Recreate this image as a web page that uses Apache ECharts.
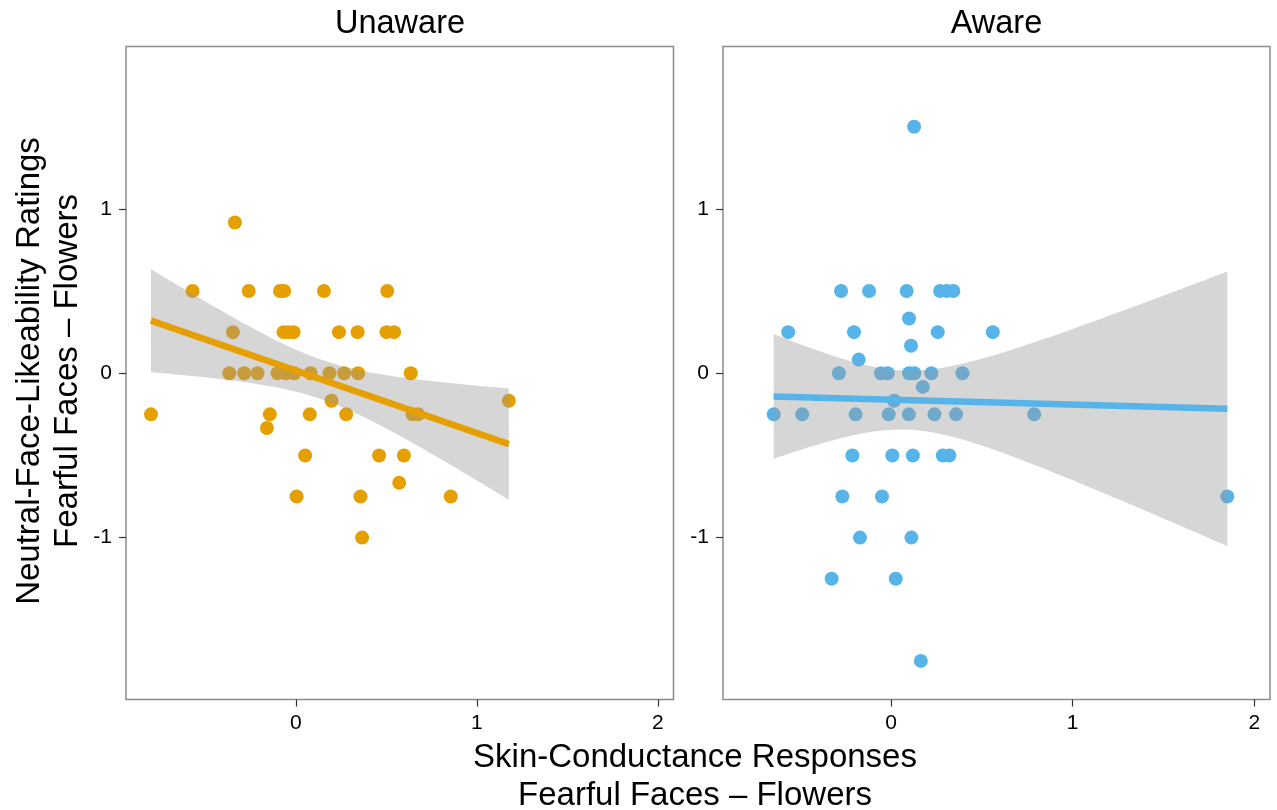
<!DOCTYPE html>
<html><head><meta charset="utf-8">
<script src="https://cdn.jsdelivr.net/npm/echarts@6/dist/echarts.min.js"></script>
<style>html,body{margin:0;padding:0;background:#fff}#c{width:1277px;height:810px}</style>
</head><body><div id="c"></div>
<script>
// ---- data ----
const unawareX = [-0.337,
  -0.571, -0.261, -0.088, -0.065, 0.155, 0.505,
  -0.348, -0.068, -0.042, -0.013, 0.238, 0.341, 0.501, 0.543,
  -0.368, -0.286, -0.212, -0.101, -0.055, -0.009, 0.081, 0.186, 0.267, 0.344, 0.635,
  0.197, 1.177,
  -0.801, -0.144, 0.077, 0.278, 0.645, 0.676,
  -0.160,
  0.051, 0.460, 0.597,
  0.571,
  0.004, 0.357, 0.856,
  0.366];
const unawareY = [0.917,
  0.5, 0.5, 0.5, 0.5, 0.5, 0.5,
  0.25, 0.25, 0.25, 0.25, 0.25, 0.25, 0.25, 0.25,
  0, 0, 0, 0, 0, 0, 0, 0, 0, 0, 0,
  -0.167, -0.167,
  -0.25, -0.25, -0.25, -0.25, -0.25, -0.25,
  -0.333,
  -0.5, -0.5, -0.5,
  -0.667,
  -0.75, -0.75, -0.75,
  -1];
const awareX = [0.127,
  -0.275, -0.121, 0.086, 0.270, 0.307, 0.343,
  0.099,
  -0.566, -0.204, 0.257, 0.560,
  0.110,
  -0.178,
  -0.287, -0.055, -0.018, 0.099, 0.128, 0.222, 0.393,
  0.175,
  0.017,
  -0.646, -0.489, -0.195, -0.013, 0.098, 0.239, 0.358, 0.788,
  -0.213, 0.007, 0.120, 0.285, 0.321,
  -0.268, -0.050, 1.851,
  -0.171, 0.112,
  -0.327, 0.026,
  0.164];
const awareY = [1.5,
  0.5, 0.5, 0.5, 0.5, 0.5, 0.5,
  0.333,
  0.25, 0.25, 0.25, 0.25,
  0.167,
  0.083,
  0, 0, 0, 0, 0, 0, 0,
  -0.083,
  -0.167,
  -0.25, -0.25, -0.25, -0.25, -0.25, -0.25, -0.25, -0.25,
  -0.5, -0.5, -0.5, -0.5, -0.5,
  -0.75, -0.75, -0.75,
  -1, -1,
  -1.25, -1.25,
  -1.75];
const panelTitles = ['Unaware', 'Aware'];
const xTicks = [0, 1, 2];
const yTicks = [-1, 0, 1];
const tCrit = [2.0195, 2.0181]; // t(0.975, n-2)
const xTitle = 'Skin-Conductance Responses\nFearful Faces \u2013 Flowers';
const yTitle = 'Neutral-Face-Likeability Ratings\nFearful Faces \u2013 Flowers';

// ---- linear fit with 95% confidence band (derived from the data) ----
function fit(xs, ys, t) {
  const n = xs.length;
  const xbar = xs.reduce((a, b) => a + b, 0) / n;
  const ybar = ys.reduce((a, b) => a + b, 0) / n;
  let sxx = 0, sxy = 0;
  for (let i = 0; i < n; i++) { sxx += (xs[i] - xbar) ** 2; sxy += (xs[i] - xbar) * (ys[i] - ybar); }
  const b = sxy / sxx, a = ybar - b * xbar;
  let sse = 0;
  for (let i = 0; i < n; i++) sse += (ys[i] - a - b * xs[i]) ** 2;
  const s = Math.sqrt(sse / (n - 2));
  const xmin = Math.min(...xs), xmax = Math.max(...xs);
  const upper = [], lower = [];
  const steps = 80;
  for (let k = 0; k <= steps; k++) {
    const x = xmin + (xmax - xmin) * k / steps;
    const yh = a + b * x;
    const se = s * Math.sqrt(1 / n + (x - xbar) ** 2 / sxx);
    upper.push([x, yh + t * se]);
    lower.push([x, yh - t * se]);
  }
  return { line: [[xmin, a + b * xmin], [xmax, a + b * xmax]], upper, lower };
}

const panels = [
  { xs: unawareX, ys: unawareY, color: '#E69F00', left: 126, width: 547.5, xmin: -0.939, xmax: 2.087, cx: 400 },
  { xs: awareX, ys: awareY, color: '#56B4E9', left: 723, width: 547, xmin: -0.925, xmax: 2.086, cx: 996.5 }
];
const FONT = 'Liberation Sans, Arial, Helvetica, sans-serif';

const grids = [], xAxes = [], yAxes = [], series = [], graphics = [];
panels.forEach((p, i) => {
  const f = fit(p.xs, p.ys, tCrit[i]);
  grids.push({ left: p.left, top: 46.5, width: p.width, height: 653, show: true,
    borderColor: '#8c8c8c', borderWidth: 1.5, backgroundColor: '#fff', containLabel: false });
  xAxes.push({ type: 'value', gridIndex: i, min: p.xmin, max: p.xmax, position: 'bottom',
    splitLine: { show: false }, axisLine: { show: false, onZero: false },
    axisTick: { show: true, length: 7, customValues: xTicks, lineStyle: { color: '#333', width: 1.2 } },
    axisLabel: { customValues: xTicks, margin: 13, fontSize: 21, color: '#000', fontFamily: FONT } });
  yAxes.push({ type: 'value', gridIndex: i, min: -1.985, max: 1.988, position: 'left',
    splitLine: { show: false }, axisLine: { show: false, onZero: false },
    axisTick: { show: true, length: 7, customValues: yTicks, lineStyle: { color: '#333', width: 1.2 } },
    axisLabel: { customValues: yTicks, margin: 14, fontSize: 21, color: '#000', fontFamily: FONT } });
  series.push({ type: 'scatter', xAxisIndex: i, yAxisIndex: i, z: 2,
    symbolSize: 14, itemStyle: { color: p.color, opacity: 1 },
    data: p.xs.map((x, k) => [x, p.ys[k]]) });
  series.push({ type: 'custom', xAxisIndex: i, yAxisIndex: i, z: 3, silent: true,
    data: [[f.line[0][0], f.line[0][1]]],
    renderItem: function (params, api) {
      const pts = f.upper.map(q => api.coord(q)).concat(f.lower.slice().reverse().map(q => api.coord(q)));
      return { type: 'polygon', shape: { points: pts }, style: { fill: 'rgba(153,153,153,0.4)' } };
    } });
  series.push({ type: 'line', xAxisIndex: i, yAxisIndex: i, z: 4, showSymbol: false, silent: true,
    lineStyle: { color: p.color, width: 6.5, cap: 'butt' }, data: f.line });
  graphics.push({ type: 'text', x: p.cx, y: 24.5,
    style: { text: panelTitles[i], textAlign: 'center', textVerticalAlign: 'middle',
      fontSize: 32.5, fontFamily: FONT, fill: '#000' } });
});
graphics.push({ type: 'text', x: 695, y: 777,
  style: { text: xTitle, textAlign: 'center', textVerticalAlign: 'middle', lineHeight: 38,
    fontSize: 33, fontFamily: FONT, fill: '#000' } });
graphics.push({ type: 'text', x: 49, y: 371, rotation: Math.PI / 2,
  style: { text: yTitle, textAlign: 'center', textVerticalAlign: 'middle', lineHeight: 38,
    fontSize: 33, fontFamily: FONT, fill: '#000' } });

const chart = echarts.init(document.getElementById('c'), null, { renderer: 'canvas' });
chart.setOption({
  animation: false,
  backgroundColor: '#fff',
  grid: grids, xAxis: xAxes, yAxis: yAxes, series: series, graphic: graphics
});
</script></body></html>
